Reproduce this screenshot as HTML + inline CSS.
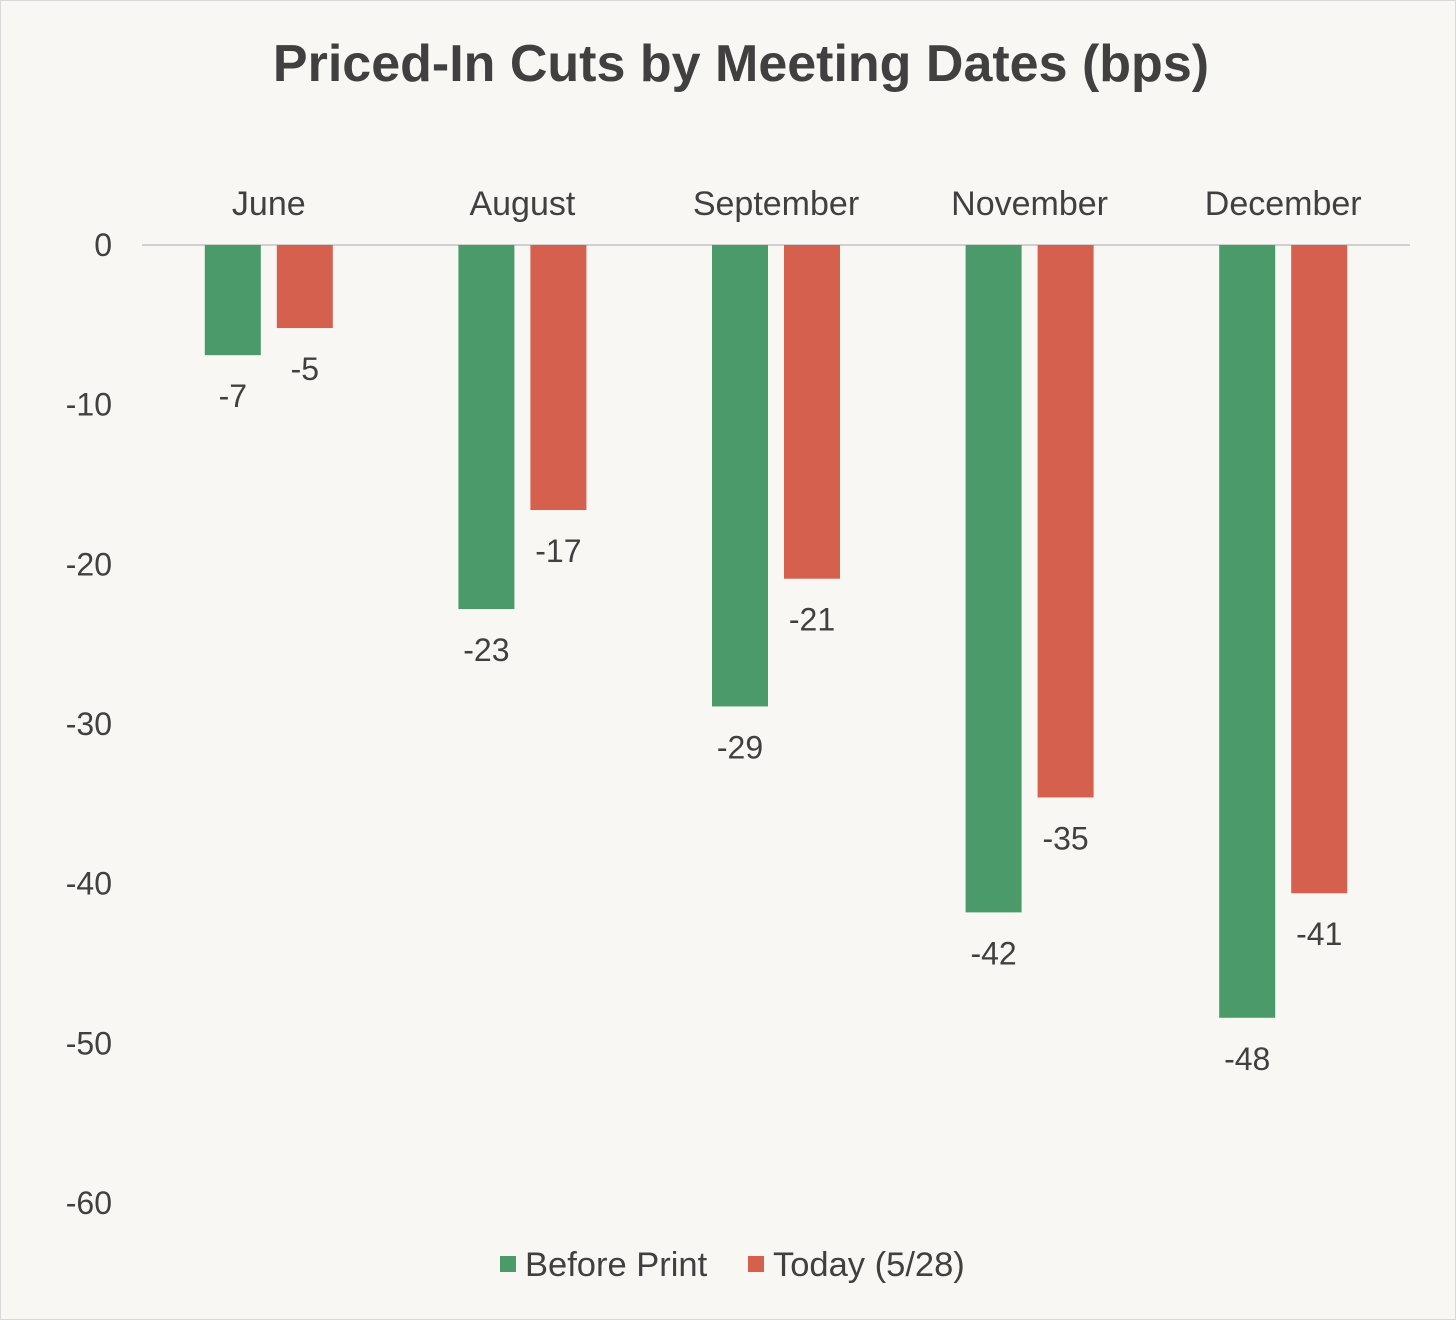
<!DOCTYPE html>
<html><head><meta charset="utf-8"><style>
html,body{margin:0;padding:0;background:#f9f7f3;}
svg{display:block;font-family:"Liberation Sans",Arial,sans-serif;}
</style></head><body>
<svg id="chart" width="1456" height="1320" viewBox="0 0 1456 1320">
<rect x="0.5" y="0.5" width="1455" height="1319" fill="#f9f7f3" stroke="#d9d9d9"/>
<text x="741" y="81" text-anchor="middle" font-size="52" font-weight="bold" fill="#404040">Priced-In Cuts by Meeting Dates (bps)</text>
<g id="plot"></g>
<g>
<rect x="500" y="1256" width="16" height="16" fill="#4a9b69"/>
<text x="525" y="1276" font-size="34.5" fill="#404040">Before Print</text>
<rect x="748" y="1256" width="16" height="16" fill="#d5604d"/>
<text x="773" y="1276" font-size="34.5" fill="#404040">Today (5/28)</text>
</g>
</svg>
<script>
const categories = ["June","August","September","November","December"];
const beforePrint = [-6.9,-22.8,-28.9,-41.8,-48.4];
const today = [-5.2,-16.6,-20.9,-34.6,-40.6];
const yTicks = [0,-10,-20,-30,-40,-50,-60];

const NS="http://www.w3.org/2000/svg";
const plot=document.getElementById('plot');
const x0=142,x1=1410,yTop=245,yBot=1203;
const yScale=v=>yTop+(0-v)/60*(yBot-yTop);
const band=(x1-x0)/categories.length;
const xCenter=i=>x0+band*(i+0.5);
function mk(tag,attrs){const e=document.createElementNS(NS,tag);for(const k in attrs)e.setAttribute(k,attrs[k]);plot.appendChild(e);return e;}

yTicks.forEach(t=>{
  const e=mk('text',{x:112,y:yScale(t)+11,'text-anchor':'end','font-size':32,fill:'#404040'});
  e.textContent=String(t);
  
  
});
const zl=mk('line',{x1:x0,x2:x1,y1:yScale(0),y2:yScale(0),stroke:'#d0d0d0','stroke-width':2});



categories.forEach((c,i)=>{
  const cx=xCenter(i);
  const t=mk('text',{x:cx,y:215,'text-anchor':'middle','font-size':34,fill:'#404040'});
  t.textContent=c;
  
  
  [[beforePrint,'#4a9b69',-36,'bar-before-print'],[today,'#d5604d',36,'bar-today']].forEach(([arr,col,off,nm])=>{
    const v=arr[i];const bx=cx+off-28;const y0=yScale(0),y1=yScale(v);
    const r=mk('rect',{x:bx,y:Math.min(y0,y1),width:56,height:Math.abs(y1-y0),fill:col});
    
    
    const l=mk('text',{x:cx+off,y:y1+52,'text-anchor':'middle','font-size':32,fill:'#404040'});
    l.textContent=String(Math.round(v));
    
    
  });
});
</script>
</body></html>
